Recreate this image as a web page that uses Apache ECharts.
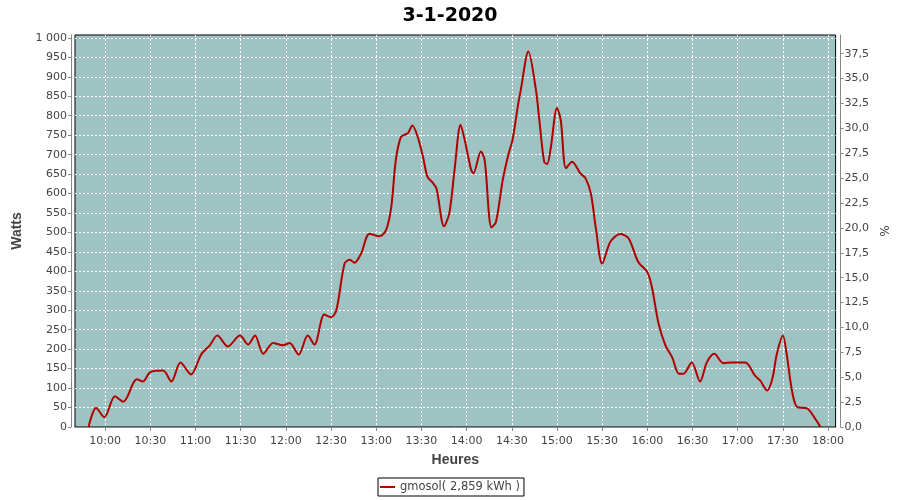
<!DOCTYPE html>
<html>
<head>
<meta charset="utf-8">
<script src="https://cdn.jsdelivr.net/npm/echarts@6/dist/echarts.min.js"></script>
<style>html,body{margin:0;padding:0;background:#fff}#c{width:900px;height:500px}</style>
</head>
<body>
<div id="c"></div>
<script>
// time of day in minutes since midnight
var minutes = [589,594,599.5,606.5,612,619,621,625,630,638.5,644,650,657,664,669.5,674.5,681.5,689.5,695,699.5,705,711.5,718,722.5,728.5,734.5,739,745.5,750,753.5,759,762.5,765.5,770,775.5,782,786.5,790,793,796.5,801,804,807.5,811,814,817.5,820,825,828.5,832,836,838.5,843,844.5,849.5,852,856.5,859.5,864,868,870.5,874,876,881,886,888.5,891.5,893.5,896,900,902.5,906,910,915.5,919,922.5,926,930,935.5,942,947.5,954,960,963,967.5,972,976.5,981,984,989.5,995,999.5,1004.5,1010.5,1016,1025,1031.5,1035,1039.5,1043,1046,1050,1052.5,1056,1059.5,1066,1071.5,1075];
// watts
var watts = [0,49,25,79,65,115,123,117,141,145,117,166,135,188,210,235,207,235,212,235,188,216,210,216,186,235,212,289,282,300,420,430,422,446,497,490,506,566,686,746,755,775,746,695,643,628,613,516,549,661,777,742,661,652,708,686,513,527,635,704,738,824,867,965,867,781,682,676,721,820,789,665,682,652,639,600,506,420,476,496,485,424,398,360,265,210,179,137,137,166,117,166,188,164,166,166,132,119,94,124,188,235,188,94,51,48,21,0];
var xTicks = [600,630,660,690,720,750,780,810,840,870,900,930,960,990,1020,1050,1080];
var leftTicks = [0,50,100,150,200,250,300,350,400,450,500,550,600,650,700,750,800,850,900,950,1000];
var rightTicks = [0,2.5,5,7.5,10,12.5,15,17.5,20,22.5,25,27.5,30,32.5,35,37.5];
var seriesName = 'gmosol( 2,859 kWh )';
var titleText = '3-1-2020';

var data = minutes.map(function(m, i){ return [m, watts[i]]; });
function hm(v){ var h = Math.floor(v/60), m = Math.round(v%60); return h + ':' + (m<10?'0':'') + m; }
var labelFont = {color:'#444', fontFamily:'DejaVu Sans', fontSize:11};

var chart = echarts.init(document.getElementById('c'), null, {renderer:'canvas'});
chart.setOption({
  animation:false,
  backgroundColor:'#fff',
  title:{text:titleText, left:'center', top:2, textStyle:{fontFamily:'DejaVu Sans', fontWeight:'bold', fontSize:19, color:'#000'}},
  grid:{left:75, right:63, top:35, bottom:73, show:true, backgroundColor:'#9FC3C3', borderColor:'#000', borderWidth:1},
  legend:{bottom:4, left:'center', data:[{name:seriesName, icon:'rect'}], itemWidth:15, itemHeight:2, itemGap:5,
    borderColor:'#000', borderWidth:1, padding:[3,4,3,2], textStyle:{fontFamily:'DejaVu Sans', fontSize:11.5, color:'#444'}},
  xAxis:{type:'value', min:580, max:1085, offset:4,
    name:'Heures', nameLocation:'middle', nameGap:22, nameTextStyle:{fontFamily:'Liberation Sans', fontWeight:'bold', fontSize:14, color:'#444'},
    axisLine:{show:true, lineStyle:{color:'#888'}},
    axisTick:{show:true, length:4, customValues:xTicks, lineStyle:{color:'#888'}},
    axisLabel:Object.assign({customValues:xTicks, formatter:hm, margin:5}, labelFont),
    splitLine:{show:true, lineStyle:{color:'#fff', type:[2,2], width:1}}},
  yAxis:[
    {type:'value', min:0, max:1007.5, offset:4, position:'left',
      name:'Watts', nameLocation:'middle', nameGap:44, nameTextStyle:{fontFamily:'Liberation Sans', fontWeight:'bold', fontSize:14, color:'#444'},
      axisLine:{show:true, lineStyle:{color:'#888'}},
      axisTick:{show:true, length:3, customValues:leftTicks, lineStyle:{color:'#888'}},
      axisLabel:Object.assign({customValues:leftTicks, margin:4, formatter:function(v){ return v>=1000 ? '1 000' : String(v); }}, labelFont),
      splitLine:{show:true, lineStyle:{color:'#fff', type:[2,2], width:1}}},
    {type:'value', min:0, max:39.38, offset:5, position:'right',
      name:'%', nameLocation:'middle', nameGap:35, nameTextStyle:{fontFamily:'DejaVu Sans', fontSize:12, color:'#444'},
      axisLine:{show:true, lineStyle:{color:'#888'}},
      axisTick:{show:true, length:3, customValues:rightTicks, lineStyle:{color:'#888'}},
      axisLabel:Object.assign({customValues:rightTicks, margin:4, formatter:function(v){ return v.toFixed(1).replace('.', ','); }}, labelFont),
      splitLine:{show:false}}
  ],
  series:[{name:seriesName, type:'line', data:data, smooth:0.3, showSymbol:false, symbol:'none',
    lineStyle:{color:'#B00000', width:2}, itemStyle:{color:'#B00000'}}]
});
</script>
</body>
</html>
